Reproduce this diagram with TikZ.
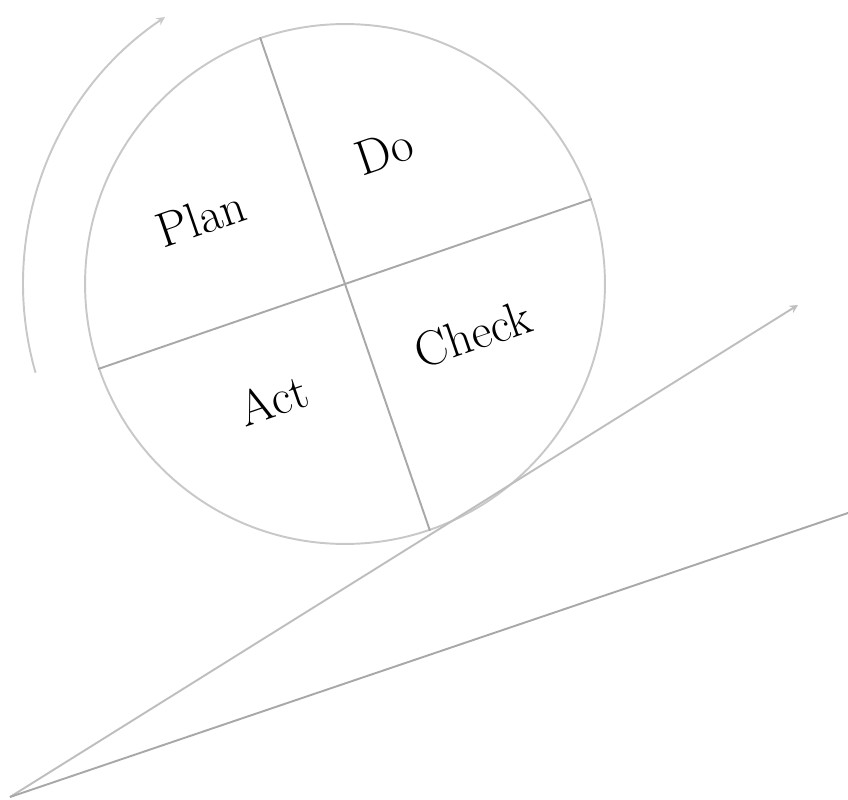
\documentclass[tikz,border=0pt]{standalone}
\usepackage{tikz}
\usetikzlibrary{calc,positioning}
\definecolor{wheelGray}{RGB}{200,200,200}
\definecolor{lineGray}{RGB}{168,168,168}
\definecolor{rampGray}{RGB}{190,190,190}

\begin{document}
\begin{tikzpicture}[x=0.02cm, y=0.02cm, >=stealth,
  phase/.style={rotate=19, font=\fontsize{28}{32}\selectfont}]
  \useasboundingbox (0,0) rectangle (848,799);

  % the wheel
  \node[draw=wheelGray, line width=1.1pt, circle, minimum size=10.4cm, inner sep=0pt] (wheel) at (345,515) {};
  \draw[lineGray, line width=1.1pt] (wheel.109) -- (wheel.289);
  \draw[lineGray, line width=1.1pt] (wheel.199) -- (wheel.19);

  \node[phase] (plan) at (201,581) {Plan};
  \node[phase] (do) at (384,648) {Do};
  \node[phase] (check) at (473,465) {Check};
  \node[phase] (act) at (273,399) {Act};

  % turning arrow
  \coordinate (turn) at ($(wheel.center)+(196:6.44cm)$);
  \draw[->, wheelGray, line width=1.1pt] (turn) arc[start angle=196, end angle=124, radius=6.44cm];

  % slope
  \coordinate (base) at (10,2);
  \coordinate (tip) at (798,494);
  \coordinate (far) at (848,286);
  \draw[->, rampGray, line width=1.1pt] (base) -- (tip);
  \draw[lineGray, line width=1.1pt] (base) -- (far);
\end{tikzpicture}
\end{document}
